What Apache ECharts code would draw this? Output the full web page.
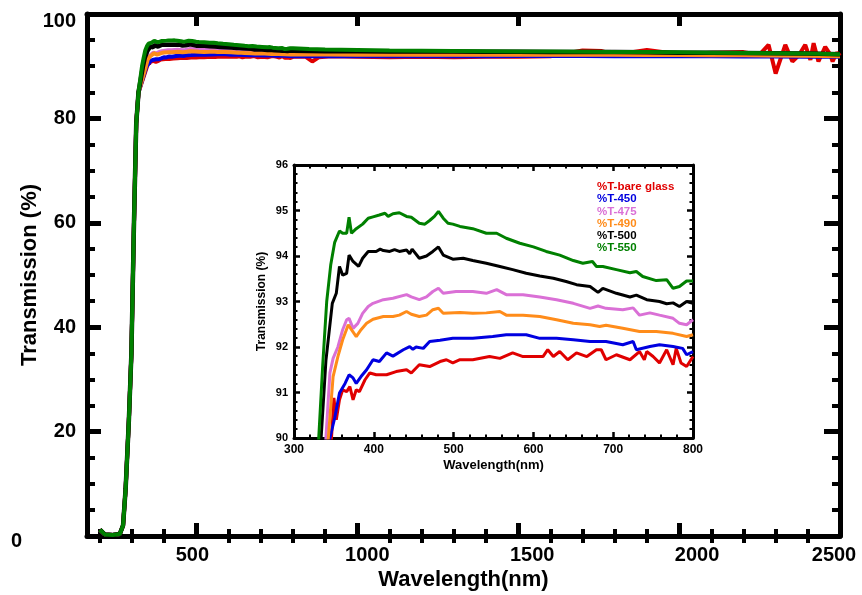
<!DOCTYPE html>
<html>
<head>
<meta charset="utf-8">
<script src="https://cdn.jsdelivr.net/npm/echarts@6/dist/echarts.min.js"></script>
<style>html,body{margin:0;padding:0;background:#fff;}#c{width:862px;height:595px;}</style>
</head>
<body>
<div id="c"></div>
<script>
// ---- data ----
const seriesNames = ['%T-bare glass', '%T-450', '%T-475', '%T-490', '%T-500', '%T-550'];
const seriesColors = ['#e00000', '#0000e0', '#da70d6', '#ff8c1a', '#000000', '#008000'];

// shared UV absorption edge (main chart)
const riseWl = [200, 215, 240, 262, 272, 280, 290, 298, 306, 313, 320];
const riseT  = [1.2, 0.3, 0.2, 0.4, 2, 9, 22, 35, 60, 79, 85];

// detailed 300-800 nm data (inset, also used in main chart)
const redDetail = [[344,88.8],[347,90],[350,90.88],[353,90.4],[357,90.84],[361,91.06],[366,91.02],[370,91.13],[374,90.84],[378,91.06],[382,91.02],[389,91.28],[395,91.43],[403,91.39],[416,91.39],[428,91.46],[441,91.5],[447,91.43],[457,91.61],[470,91.57],[483,91.68],[491,91.72],[499,91.65],[508,91.72],[524,91.72],[545,91.79],[558,91.75],[574,91.87],[587,91.79],[600,91.79],[612,91.79],[618,91.94],[625,91.79],[633,91.9],[643,91.72],[654,91.87],[667,91.79],[679,91.94],[685,91.94],[691,91.72],[704,91.83],[721,91.72],[733,91.9],[739,91.72],[742,91.9],[750,91.79],[758,91.65],[767,91.94],[775,91.61],[779,91.97],[785,91.65],[792,91.57],[800,91.79]];
const blueDetail = [[342,88.8],[345,90],[351,90.44],[357,90.99],[364,91.2],[369,91.39],[374,91.32],[378,91.2],[384,91.35],[391,91.5],[399,91.72],[407,91.68],[416,91.87],[424,91.8],[437,91.94],[445,92.01],[449,91.95],[453,92.0],[462,91.97],[470,92.12],[483,92.15],[499,92.19],[524,92.19],[549,92.23],[566,92.27],[591,92.27],[608,92.19],[629,92.19],[650,92.16],[671,92.12],[691,92.12],[712,92.05],[725,92.12],[729,91.94],[746,92.01],[758,92.05],[775,92.01],[787,91.97],[792,91.83],[800,91.9]];
const pinkDetail = [[337,88.8],[340,90],[345,91.43],[349,91.75],[355,92.0],[361,92.38],[366,92.6],[369,92.63],[374,92.41],[380,92.52],[386,92.74],[393,92.89],[399,92.96],[412,93.04],[424,93.07],[441,93.15],[447,93.1],[457,93.04],[466,93.1],[474,93.22],[481,93.29],[487,93.18],[503,93.22],[524,93.22],[541,93.18],[554,93.26],[566,93.15],[587,93.15],[608,93.1],[629,93.04],[650,92.96],[671,92.85],[681,92.9],[691,92.85],[712,92.82],[725,92.86],[733,92.7],[746,92.75],[758,92.7],[775,92.63],[783,92.52],[792,92.49],[800,92.6]];
const orangeDetail = [[340,88.8],[343,90],[349,91.35],[355,91.79],[361,92.16],[368,92.49],[372,92.38],[378,92.23],[384,92.38],[391,92.52],[399,92.61],[412,92.67],[424,92.67],[432,92.7],[441,92.78],[447,92.72],[457,92.67],[466,92.7],[474,92.82],[481,92.85],[487,92.74],[508,92.76],[524,92.74],[541,92.75],[558,92.78],[566,92.7],[587,92.7],[608,92.67],[629,92.6],[650,92.52],[671,92.49],[683,92.45],[691,92.48],[712,92.41],[733,92.34],[754,92.34],[775,92.3],[792,92.23],[800,92.27]];
const blackDetail = [[331,88.8],[334,90],[340,91.7],[348,92.96],[353,93.18],[357,93.77],[361,93.58],[366,93.62],[369,94.02],[374,93.88],[381,93.77],[386,93.95],[393,94.1],[403,94.1],[408,94.15],[412,94.12],[420,94.1],[426,94.14],[432,94.1],[441,94.13],[445,94.05],[448,94.15],[457,93.95],[466,94.0],[474,94.1],[481,94.2],[487,94.02],[499,93.93],[512,93.95],[524,93.9],[541,93.84],[558,93.77],[574,93.7],[591,93.62],[608,93.56],[625,93.51],[641,93.44],[654,93.37],[671,93.33],[681,93.2],[687,93.29],[704,93.18],[721,93.1],[729,93.14],[742,93.04],[758,93.0],[767,92.95],[775,92.97],[783,92.89],[792,93.0],[800,92.96]];
const greenDetail = [[327,88.7],[331,90],[336,91.6],[341,93.0],[346,93.8],[351,94.3],[357,94.55],[361,94.5],[366,94.5],[369,94.85],[372,94.5],[378,94.6],[386,94.7],[393,94.83],[399,94.86],[407,94.9],[414,94.94],[418,94.87],[424,94.93],[432,94.95],[441,94.87],[447,94.85],[457,94.72],[464,94.7],[470,94.78],[476,94.87],[481,94.98],[487,94.83],[493,94.72],[499,94.7],[508,94.65],[524,94.6],[541,94.5],[554,94.5],[566,94.39],[583,94.28],[600,94.2],[616,94.1],[633,94.02],[650,93.9],[662,93.84],[674,93.88],[679,93.77],[687,93.77],[704,93.7],[721,93.63],[729,93.66],[737,93.55],[754,93.46],[767,93.48],[775,93.29],[783,93.33],[792,93.45],[800,93.45]];

// NIR tail (main chart)
const tailWl = [850, 900, 1000, 1100, 1200, 1300, 1400, 1500, 1600, 1700, 1800, 1900, 2000, 2100, 2200, 2300, 2400, 2500];
const blueTail   = [91.9, 91.9, 91.9, 91.9, 91.9, 91.9, 91.9, 91.95, 91.95, 91.95, 91.9, 91.9, 91.9, 91.9, 91.85, 91.85, 91.8, 91.8];
const pinkTail   = [92.5, 92.45, 92.4, 92.35, 92.3, 92.3, 92.3, 92.3, 92.3, 92.3, 92.3, 92.25, 92.2, 92.2, 92.15, 92.1, 92.1, 92.0];
const orangeTail = [92.25, 92.25, 92.2, 92.2, 92.2, 92.2, 92.2, 92.2, 92.2, 92.2, 92.2, 92.15, 92.15, 92.1, 92.1, 92.05, 92.0, 91.9];
const blackTail  = [92.9, 92.85, 92.85, 92.8, 92.8, 92.8, 92.75, 92.75, 92.7, 92.7, 92.7, 92.65, 92.6, 92.6, 92.55, 92.5, 92.45, 92.3];
const greenTail  = [93.3, 93.2, 93.1, 93.0, 92.95, 92.9, 92.85, 92.8, 92.8, 92.75, 92.7, 92.7, 92.65, 92.6, 92.55, 92.5, 92.45, 92.3];
const redTailWl = [840, 860, 880, 920, 1000, 1100, 1200, 1300, 1400, 1500, 1600, 1700, 1760, 1800, 1900, 2000, 2100, 2200, 2250, 2278, 2300, 2330, 2352, 2372, 2392, 2408, 2418, 2433, 2454, 2470, 2477, 2490, 2500];
const redTail   = [91.8, 90.9, 91.7, 91.9, 91.8, 91.7, 91.8, 91.7, 91.8, 91.8, 91.9, 93.0, 92.9, 92.2, 93.1, 92.3, 92.6, 92.7, 92.2, 94.1, 88.6, 94.1, 90.9, 92.1, 94.1, 91.2, 94.4, 90.9, 93.7, 92.2, 90.9, 92.6, 92.0];

const mainXMajor = [500, 1000, 1500, 2000, 2500];
const mainXMinor = [200, 300, 400, 600, 700, 800, 900, 1100, 1200, 1300, 1400, 1600, 1700, 1800, 1900, 2100, 2200, 2300, 2400];

// ---- build ----
const zip = (xs, ys) => xs.map((x, i) => [x, ys[i]]);
const rise = zip(riseWl, riseT);
const details = [redDetail, blueDetail, pinkDetail, orangeDetail, blackDetail, greenDetail];
const tails = [zip(redTailWl, redTail), zip(tailWl, blueTail), zip(tailWl, pinkTail), zip(tailWl, orangeTail), zip(tailWl, blackTail), zip(tailWl, greenTail)];

const FONT = 'Liberation Sans, Arial, sans-serif';
const drawOrder = [0, 1, 2, 3, 5, 4];
const series = [];
drawOrder.forEach(i => {
  series.push({
    name: seriesNames[i], type: 'line', xAxisIndex: 0, yAxisIndex: 0,
    data: rise.concat(details[i].filter(p => p[1] >= 89)).concat(tails[i]),
    showSymbol: false, lineStyle: { color: seriesColors[i], width: i === 4 ? 4.5 : 4 },
    itemStyle: { color: seriesColors[i] }, z: 2 + i
  });
});
drawOrder.forEach(i => {
  series.push({
    name: seriesNames[i], type: 'line', xAxisIndex: 4, yAxisIndex: 2,
    data: details[i], showSymbol: false, clip: true,
    lineStyle: { color: seriesColors[i], width: 3 },
    itemStyle: { color: seriesColors[i] }, z: 2 + i
  });
});

const xShift = { 500: -4, 1000: 10, 1500: 14, 2000: 18, 2500: -6 };
const mainLine = { show: true, onZero: false, lineStyle: { color: '#000', width: 5 } };
const insetLine = { show: true, onZero: false, lineStyle: { color: '#000', width: 3 } };
const noLabel = { show: false };
const baseRich = { fontFamily: FONT, fontWeight: 'bold', fontSize: 20, color: '#000' };

const xRich = {};
Object.keys(xShift).forEach(k => {
  const s = xShift[k];
  if (s >= 0) xRich['r' + s] = Object.assign({ padding: [0, 0, 0, 2 * s] }, baseRich);
  else xRich['l' + (-s)] = Object.assign({ padding: [0, -2 * s, 0, 0] }, baseRich);
});

const option = {
  animation: false,
  backgroundColor: '#fff',
  grid: [
    { left: 87, right: 22, top: 14, bottom: 59, outerBoundsMode: 'none', containLabel: false },
    { left: 294, right: 169, top: 165, bottom: 157, outerBoundsMode: 'none', containLabel: false }
  ],
  legend: {
    orient: 'vertical', left: 587, top: 176, itemWidth: 0, itemHeight: 12, itemGap: 0.2,
    icon: 'rect', selectedMode: false,
    textStyle: { fontFamily: FONT, fontWeight: 'bold', fontSize: 11.5, lineHeight: 12 },
    data: seriesNames.map((n, i) => ({ name: n, textStyle: { color: seriesColors[i] } }))
  },
  xAxis: [
    { type: 'value', gridIndex: 0, position: 'bottom', min: 160, max: 2500,
      axisLine: mainLine, splitLine: { show: false },
      axisTick: { inside: true, length: 13, customValues: mainXMajor, lineStyle: { width: 5, color: '#000' } },
      axisLabel: { customValues: mainXMajor, margin: 9, color: '#000', fontFamily: FONT, fontWeight: 'bold', fontSize: 20,
        formatter: v => {
          const s = xShift[v] || 0;
          return s >= 0 ? '{r' + s + '|' + v + '}' : '{l' + (-s) + '|' + v + '}';
        },
        rich: xRich },
      name: 'Wavelength(nm)', nameLocation: 'middle', nameGap: 33, nameMoveOverlap: false,
      nameTextStyle: { fontFamily: FONT, fontWeight: 'bold', fontSize: 22, color: '#000' } },
    { type: 'value', gridIndex: 0, position: 'bottom', min: 160, max: 2500,
      axisLine: { show: false }, splitLine: { show: false }, axisLabel: noLabel,
      axisTick: { inside: true, length: 7, customValues: mainXMinor, lineStyle: { width: 4, color: '#000' } } },
    { type: 'value', gridIndex: 0, position: 'top', min: 160, max: 2500,
      axisLine: mainLine, splitLine: { show: false }, axisLabel: noLabel,
      axisTick: { inside: true, length: 12, customValues: mainXMajor, lineStyle: { width: 5, color: '#000' } } },
    { type: 'value', gridIndex: 0, position: 'top', min: 160, max: 2500,
      axisLine: { show: false }, splitLine: { show: false }, axisLabel: noLabel,
      axisTick: { inside: true, length: 7, customValues: mainXMinor, lineStyle: { width: 4, color: '#000' } } },
    { type: 'value', gridIndex: 1, position: 'bottom', min: 300, max: 800, interval: 100,
      axisLine: insetLine, splitLine: { show: false },
      axisTick: { inside: true, length: 6, lineStyle: { width: 2.5, color: '#000' } },
      minorTick: { show: true, splitNumber: 5, length: 3.5, lineStyle: { width: 2, color: '#000' } },
      axisLabel: { margin: 6, color: '#000', fontFamily: FONT, fontWeight: 'bold', fontSize: 12 },
      name: 'Wavelength(nm)', nameLocation: 'middle', nameGap: 21, nameMoveOverlap: false,
      nameTextStyle: { fontFamily: FONT, fontWeight: 'bold', fontSize: 13, color: '#000' } },
    { type: 'value', gridIndex: 1, position: 'top', min: 300, max: 800, interval: 100,
      axisLine: insetLine, splitLine: { show: false }, axisLabel: noLabel,
      axisTick: { inside: true, length: 6, lineStyle: { width: 2.5, color: '#000' } },
      minorTick: { show: true, splitNumber: 5, length: 3.5, lineStyle: { width: 2, color: '#000' } } }
  ],
  yAxis: [
    { type: 'value', gridIndex: 0, position: 'left', min: 0, max: 100, interval: 20,
      axisLine: mainLine, splitLine: { show: false },
      axisTick: { inside: true, length: 14, lineStyle: { width: 5, color: '#000' } },
      minorTick: { show: true, splitNumber: 4, length: 8, lineStyle: { width: 4, color: '#000' } },
      axisLabel: { margin: 11, color: '#000', fontFamily: FONT, fontWeight: 'bold', fontSize: 20,
        formatter: v => v === 0 ? '{z|0}' : (v === 100 ? '{t|100}' : '{a|' + v + '}'),
        rich: {
          a: baseRich,
          z: Object.assign({ padding: [10, 54, 0, 0] }, baseRich),
          t: Object.assign({ padding: [14, 0, 0, 0] }, baseRich)
        } },
      name: 'Transmission (%)', nameLocation: 'middle', nameGap: 46, nameMoveOverlap: false,
      nameTextStyle: { fontFamily: FONT, fontWeight: 'bold', fontSize: 22, color: '#000' } },
    { type: 'value', gridIndex: 0, position: 'right', min: 0, max: 100, interval: 20,
      axisLine: mainLine, splitLine: { show: false }, axisLabel: noLabel,
      axisTick: { inside: true, length: 16, lineStyle: { width: 5, color: '#000' } },
      minorTick: { show: true, splitNumber: 4, length: 8, lineStyle: { width: 4, color: '#000' } } },
    { type: 'value', gridIndex: 1, position: 'left', min: 90, max: 96, interval: 1,
      axisLine: insetLine, splitLine: { show: false },
      axisTick: { inside: true, length: 6, lineStyle: { width: 2.5, color: '#000' } },
      minorTick: { show: true, splitNumber: 5, length: 3.5, lineStyle: { width: 2, color: '#000' } },
      axisLabel: { margin: 6, color: '#000', fontFamily: FONT, fontWeight: 'bold', fontSize: 11 },
      name: 'Transmission (%)', nameLocation: 'middle', nameGap: 26, nameMoveOverlap: false,
      nameTextStyle: { fontFamily: FONT, fontWeight: 'bold', fontSize: 12, color: '#000' } },
    { type: 'value', gridIndex: 1, position: 'right', min: 90, max: 96, interval: 1,
      axisLine: insetLine, splitLine: { show: false }, axisLabel: noLabel,
      axisTick: { inside: true, length: 6, lineStyle: { width: 2.5, color: '#000' } },
      minorTick: { show: true, splitNumber: 5, length: 3.5, lineStyle: { width: 2, color: '#000' } } }
  ],
  series: series
};

const chart = echarts.init(document.getElementById('c'), null, { renderer: 'canvas' });
chart.setOption(option);
</script>
</body>
</html>
